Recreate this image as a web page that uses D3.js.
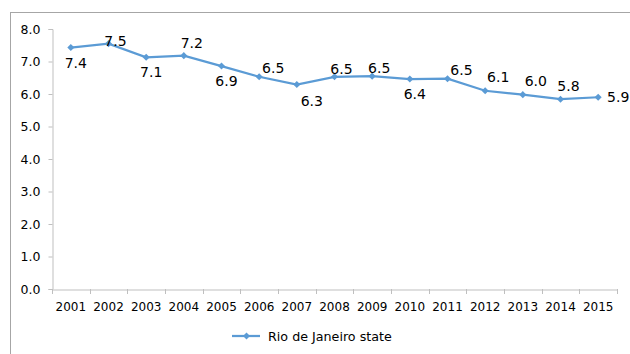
<!DOCTYPE html>
<html>
<head>
<meta charset="utf-8">
<script src="https://cdn.jsdelivr.net/npm/d3@7"></script>
<style>
  body { margin: 0; background: #fff; }
  text { font-family: "DejaVu Sans", Verdana, sans-serif; fill: #000; }
</style>
</head>
<body>
<div id="chart"></div>
<script>
// ---- data ----
var years = ["2001", "2002", "2003", "2004", "2005", "2006", "2007", "2008",
  "2009", "2010", "2011", "2012", "2013", "2014", "2015"];
var values = [7.43, 7.55, 7.13, 7.18, 6.86, 6.53, 6.29, 6.53, 6.55, 6.46, 6.47, 6.10, 5.98, 5.84, 5.90];
var labels = ["7.4", "7.5", "7.1", "7.2", "6.9", "6.5", "6.3", "6.5", "6.5", "6.4", "6.5", "6.1", "6.0", "5.8", "5.9"];
// where each data label sits relative to its point
var labelSide = ["below", "onPoint", "below", "above", "below", "aboveRight", "belowRight", "aboveNear",
  "aboveNear", "below", "aboveRight", "aboveRightHigh", "aboveRightHigh", "above", "right"];
var yTicks = [0, 1, 2, 3, 4, 5, 6, 7, 8];
var seriesName = "Rio de Janeiro state";

var svgWidth = 630;
var svgHeight = 354;
var lineColor = "#5b9bd5";
var axisColor = "#bfbfbf";

var svg = d3.select("#chart")
  .append("svg")
  .attr("width", svgWidth)
  .attr("height", svgHeight);

// outer frame (cropped at right and bottom)
svg.append("rect")
  .attr("x", 10.5)
  .attr("y", 12.5)
  .attr("width", 700)
  .attr("height", 400)
  .attr("fill", "none")
  .attr("stroke", "#a6a6a6");

var x = d3.scaleBand()
  .domain(years)
  .range([52, 617])
  .padding(0);

var y = d3.scaleLinear()
  .domain([0, 8])
  .range([289, 29]);

// y axis
var yAxis = svg.append("g")
  .attr("transform", "translate(52.5,0)")
  .call(d3.axisLeft(y).tickValues(yTicks).tickSize(4).tickPadding(8).tickFormat(d3.format(".1f")));
yAxis.selectAll("path, line").attr("stroke", axisColor);
yAxis.selectAll("text").attr("font-size", "12.5px").attr("font-family", "DejaVu Sans");

// x axis
var xAxis = svg.append("g")
  .attr("transform", "translate(0,289.5)")
  .call(d3.axisBottom(x).tickSize(0).tickPadding(13));
xAxis.selectAll("path").attr("stroke", axisColor);
xAxis.selectAll("text").attr("font-size", "12px").attr("font-family", "DejaVu Sans");
// tick marks on category boundaries
svg.append("g")
  .selectAll("line")
  .data(years.concat(["end"]))
  .enter()
  .append("line")
  .attr("x1", (d, i) => Math.round(52 + i * x.bandwidth()) + 0.5)
  .attr("x2", (d, i) => Math.round(52 + i * x.bandwidth()) + 0.5)
  .attr("y1", 289)
  .attr("y2", 294)
  .attr("stroke", axisColor);

// line
var line = d3.line()
  .x((d, i) => x(years[i]) + x.bandwidth() / 2)
  .y(d => y(d));

svg.append("path")
  .datum(values)
  .attr("d", line)
  .attr("fill", "none")
  .attr("stroke", lineColor)
  .attr("stroke-width", 2.25);

var diamond = d3.symbol().type(d3.symbolSquare).size(25);
svg.append("g")
  .selectAll("path")
  .data(values)
  .enter()
  .append("path")
  .attr("d", diamond)
  .attr("transform", (d, i) => `translate(${x(years[i]) + x.bandwidth() / 2},${y(d)}) rotate(45)`)
  .attr("fill", lineColor);

// data labels
var offsets = {
  below: [5, 15],
  belowRight: [15, 16],
  above: [8, -13],
  aboveNear: [7, -8],
  aboveRight: [14, -9],
  aboveRightHigh: [13, -14],
  onPoint: [7, -3],
  right: [20, 0]
};
svg.append("g")
  .selectAll("text")
  .data(values)
  .enter()
  .append("text")
  .attr("x", (d, i) => x(years[i]) + x.bandwidth() / 2 + offsets[labelSide[i]][0])
  .attr("y", (d, i) => y(d) + offsets[labelSide[i]][1])
  .attr("text-anchor", "middle")
  .attr("dy", "0.36em")
  .attr("font-size", "14px")
  .text((d, i) => labels[i]);

// legend
var legend = svg.append("g").attr("transform", "translate(232,336)");
legend.append("line")
  .attr("x1", 0).attr("x2", 28)
  .attr("y1", 0).attr("y2", 0)
  .attr("stroke", lineColor)
  .attr("stroke-width", 2.25);
legend.append("path")
  .attr("d", diamond)
  .attr("transform", "translate(14.5,0) rotate(45)")
  .attr("fill", lineColor);
legend.append("text")
  .attr("x", 36)
  .attr("y", 0)
  .attr("dy", "0.36em")
  .attr("font-size", "12.7px")
  .text(seriesName);
</script>
</body>
</html>
